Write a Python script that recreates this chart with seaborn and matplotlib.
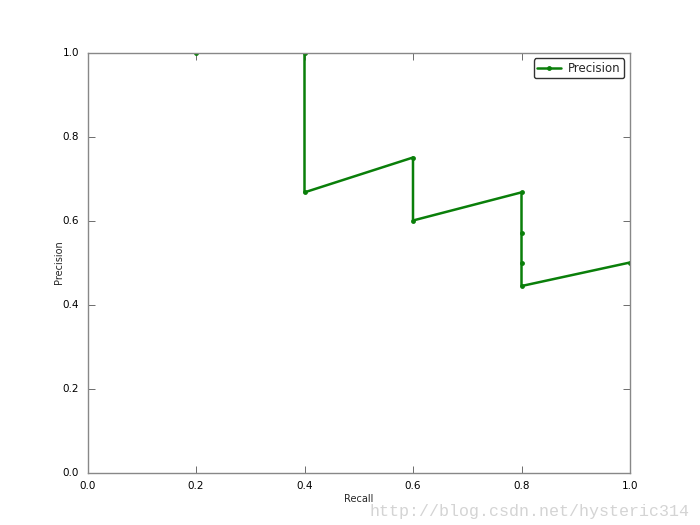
import numpy as np
import pandas as pd
import matplotlib
matplotlib.use("Agg")
import matplotlib.pyplot as plt
import seaborn as sns

# Precision / recall points
recall = [0.2, 0.4, 0.4, 0.6, 0.6, 0.8, 0.8, 0.8, 0.8, 1.0]
precision = [1.0, 1.0, 0.667, 0.75, 0.6, 0.667, 0.571, 0.5, 0.444, 0.5]
ticks = [0.0, 0.2, 0.4, 0.6, 0.8, 1.0]

df = pd.DataFrame({'Recall': recall, 'Precision': precision})

sns.set_style('white')
plt.rcParams['font.family'] = ['DejaVu Sans']

fig = plt.figure(figsize=(7, 5.25), dpi=100)
ax = fig.add_axes([0.125, 0.1, 0.775, 0.8])

sns.lineplot(data=df, x='Recall', y='Precision', sort=False, estimator=None,
             color='#0a7f0a', linewidth=1.8, marker='o', markersize=3.5,
             markeredgewidth=0, label='Precision', ax=ax)

ax.set_xlim(0, 1)
ax.set_ylim(0, 1)
ax.set_xticks(ticks)
ax.set_yticks(ticks)
ax.set_xlabel('Recall', fontsize=7, labelpad=2)
ax.set_ylabel('Precision', fontsize=7, labelpad=-1)
ax.tick_params(direction='in', length=5, width=0.6, colors='#555555',
               labelcolor='black', labelsize=7.5, top=True, right=True,
               bottom=True, left=True, pad=6)
for s in ax.spines.values():
    s.set_color('#888888')
    s.set_linewidth(1)

leg = ax.legend(loc='upper right', fontsize=8.5, frameon=True, fancybox=True,
                handlelength=2.0, borderpad=0.3, handletextpad=0.6)
leg.get_frame().set_edgecolor('black')
leg.get_frame().set_linewidth(1)

fig.text(0.985, 0.012, 'http://blog.csdn.net/hysteric314', ha='right', va='bottom',
         fontsize=12, color='#d4d4d4', family='Liberation Mono')

fig.savefig('out.png', dpi=100)
